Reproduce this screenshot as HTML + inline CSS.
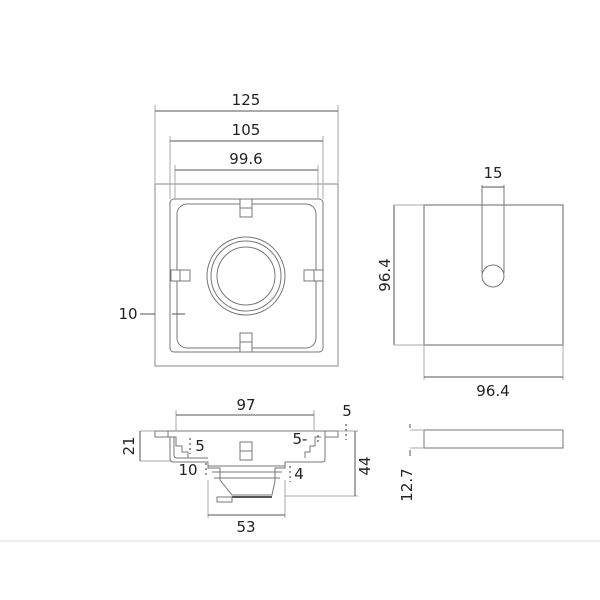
<!DOCTYPE html>
<html><head><style>body{margin:0;background:#fff}svg{display:block}text{font-family:"DejaVu Sans","Liberation Sans",sans-serif;fill:#222;font-size:15px}</style></head>
<body>
<svg width="600" height="600" viewBox="0 0 600 600" xmlns="http://www.w3.org/2000/svg">
<g fill="none" stroke="#777" stroke-width="1">
<rect x="155" y="184" width="183" height="182" stroke="#888"/>
<rect x="170" y="199" width="153" height="153" rx="4"/>
<rect x="177" y="204" width="139" height="144" rx="10"/>
<circle cx="246" cy="276" r="39"/>
<circle cx="246" cy="276" r="35"/>
<circle cx="246" cy="276" r="29"/>
<rect x="240" y="199" width="12" height="18" fill="#fff"/><line x1="240" y1="208" x2="252" y2="208"/>
<rect x="240" y="333" width="12" height="19" fill="#fff"/><line x1="240" y1="342" x2="252" y2="342"/>
<rect x="171" y="270" width="19" height="11" fill="#fff"/><line x1="180" y1="270" x2="180" y2="281"/>
<rect x="304" y="270" width="19" height="11" fill="#fff"/><line x1="314" y1="270" x2="314" y2="281"/>
<g stroke="#aaa">
<line x1="155" y1="105" x2="155" y2="184"/><line x1="338" y1="105" x2="338" y2="184"/>
<line x1="170" y1="136" x2="170" y2="199"/><line x1="323" y1="136" x2="323" y2="199"/>
<line x1="175" y1="165" x2="175" y2="199"/><line x1="318" y1="165" x2="318" y2="199"/>
</g>
<line x1="155" y1="111" x2="338" y2="111" stroke="#555"/>
<line x1="170" y1="141" x2="323" y2="141" stroke="#555"/>
<line x1="175" y1="170" x2="318" y2="170" stroke="#555"/>
<line x1="140" y1="314" x2="155" y2="314" stroke="#555"/>
<line x1="172" y1="314" x2="185" y2="314" stroke="#555"/>
<rect x="424" y="205" width="139" height="140" stroke="#999" stroke-width="1.5"/>
<circle cx="493" cy="276" r="11"/>
<line x1="482" y1="185" x2="482" y2="273"/><line x1="504" y1="185" x2="504" y2="273"/>
<line x1="482" y1="187" x2="504" y2="187" stroke="#555"/>
<line x1="394" y1="205" x2="394" y2="345" stroke="#555"/>
<line x1="394" y1="205" x2="424" y2="205" stroke="#aaa"/><line x1="394" y1="345" x2="424" y2="345" stroke="#aaa"/>
<line x1="424" y1="345" x2="424" y2="380" stroke="#aaa"/><line x1="563" y1="345" x2="563" y2="380" stroke="#aaa"/>
<line x1="424" y1="377" x2="563" y2="377" stroke="#555"/>
<rect x="424" y="430" width="139" height="18"/>
<line x1="410" y1="424" x2="410" y2="428" stroke="#555"/><line x1="410" y1="450" x2="410" y2="456" stroke="#555"/>
<line x1="410" y1="430" x2="424" y2="430" stroke="#aaa"/><line x1="410" y1="448" x2="424" y2="448" stroke="#aaa"/>
<path d="M155 431 H338 V437 H325 V460 Q325 462 321 462 H285 V468 H275 V481 L272 495 H232 L220 480 V468 H208 V462 H173 Q170 462 170 458 V437 H155 Z"/>
<rect x="155" y="431" width="13" height="6"/>
<rect x="325" y="431" width="13" height="6"/>
<path d="M174 437 V455 Q174 458 177 458 H208"/>
<path d="M170 437 H176 V446 H182 V452 H188 V458"/>
<path d="M321 437 H315 V446 H310 V452 H305 V458"/>
<line x1="208" y1="466" x2="285" y2="466"/>
<line x1="212" y1="472" x2="282" y2="472"/>
<line x1="214" y1="478" x2="280" y2="478"/>
<line x1="232" y1="497" x2="272" y2="497" stroke="#555" stroke-width="2"/>
<rect x="217" y="497" width="15" height="5"/>
<rect x="240" y="442" width="12" height="18"/><line x1="240" y1="451" x2="252" y2="451"/>
<g stroke="#aaa">
<line x1="176" y1="410" x2="176" y2="431"/><line x1="314" y1="410" x2="314" y2="431"/>
<line x1="140" y1="431" x2="155" y2="431"/><line x1="140" y1="461" x2="170" y2="461"/>
<line x1="338" y1="431" x2="358" y2="431"/><line x1="285" y1="496" x2="358" y2="496"/>
<line x1="208" y1="480" x2="208" y2="518"/><line x1="285" y1="480" x2="285" y2="518"/>
</g>
<line x1="176" y1="415" x2="314" y2="415" stroke="#555"/>
<line x1="140" y1="431" x2="140" y2="461" stroke="#555"/>
<line x1="355" y1="431" x2="355" y2="496" stroke="#555"/>
<line x1="208" y1="515" x2="285" y2="515" stroke="#555"/>
<g stroke="#333" stroke-dasharray="2,3">
<line x1="190" y1="438" x2="190" y2="454"/><line x1="206" y1="463" x2="206" y2="478"/>
<line x1="290" y1="466" x2="290" y2="482"/><line x1="346" y1="424" x2="346" y2="440"/>
<line x1="318" y1="435" x2="318" y2="445"/>
</g>
<line x1="0" y1="541" x2="600" y2="541" stroke="#eee" stroke-width="2"/>
</g>
<text x="246" y="105" text-anchor="middle">125</text>
<text x="246" y="135" text-anchor="middle">105</text>
<text x="246" y="164" text-anchor="middle">99.6</text>
<text x="128" y="319" text-anchor="middle">10</text>
<text x="493" y="178" text-anchor="middle">15</text>
<text x="493" y="396" text-anchor="middle">96.4</text>
<text transform="translate(390,275) rotate(-90)" text-anchor="middle">96.4</text>
<text transform="translate(412,485) rotate(-90)" text-anchor="middle">12.7</text>
<text x="246" y="410" text-anchor="middle">97</text>
<text x="347" y="416" text-anchor="middle">5</text>
<text transform="translate(134,446) rotate(-90)" text-anchor="middle">21</text>
<text transform="translate(370,466) rotate(-90)" text-anchor="middle">44</text>
<text x="200" y="451" text-anchor="middle">5</text>
<text x="300" y="444" text-anchor="middle">5-</text>
<text x="188" y="475" text-anchor="middle">10</text>
<text x="299" y="479" text-anchor="middle">4</text>
<text x="246" y="532" text-anchor="middle">53</text>
</svg>
</body></html>
